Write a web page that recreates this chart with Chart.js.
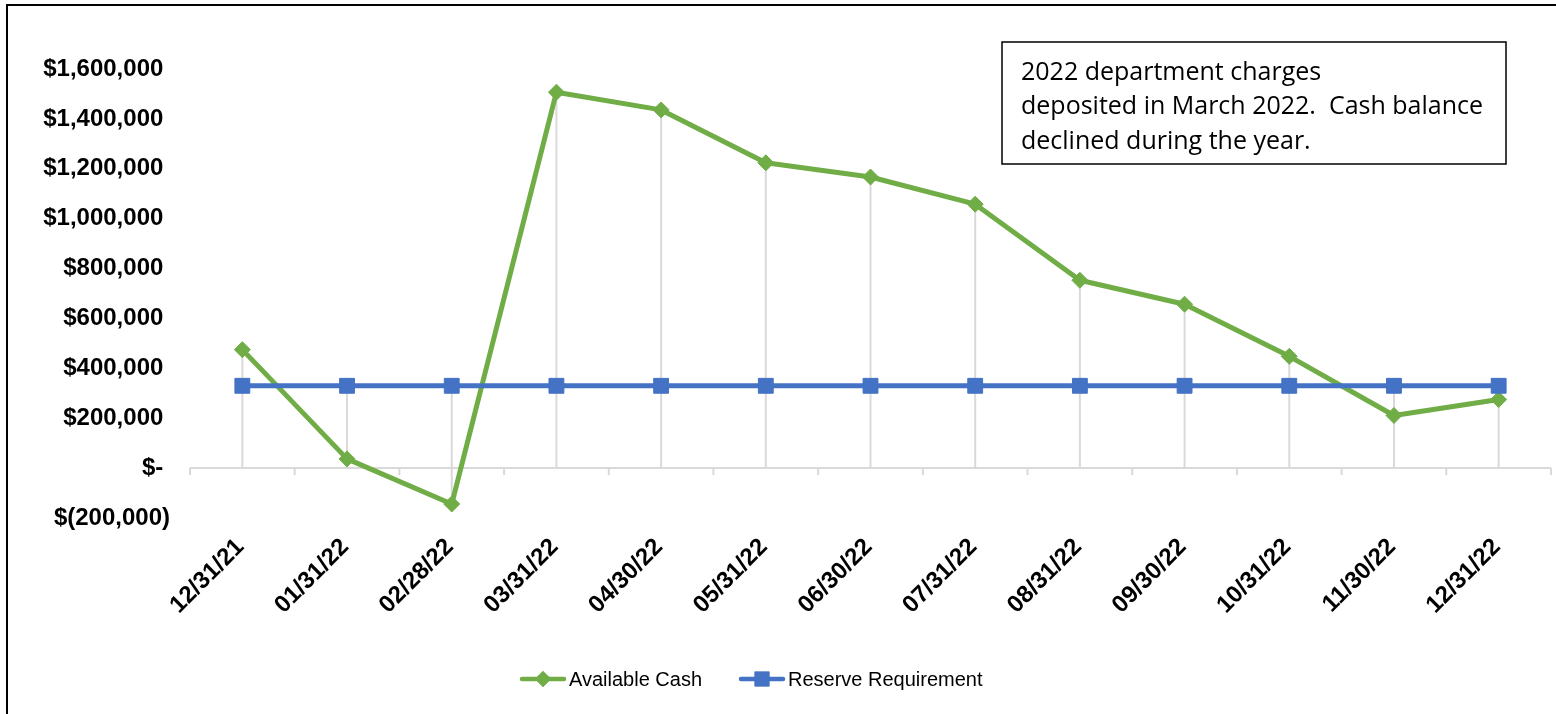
<!DOCTYPE html>
<html>
<head>
<meta charset="utf-8">
<script src="https://cdn.jsdelivr.net/npm/chart.js@4/dist/chart.umd.min.js"></script>
<style>
    body { margin: 0; background: #fff; overflow: hidden; }
    #frame { position: absolute; left: 6px; top: 4px; width: 1600px; height: 800px; border: 2px solid #000; }
    #cashChart { position: absolute; left: 0; top: 0; }
</style>
</head>
<body>
<div id="frame"></div>
<canvas id="cashChart" width="1556" height="714"></canvas>
<script>
// Month-end dates
const monthEnds = ["12/31/21", "01/31/22", "02/28/22", "03/31/22", "04/30/22", "05/31/22", "06/30/22",
    "07/31/22", "08/31/22", "09/30/22", "10/31/22", "11/30/22", "12/31/22"];

// Balances
const availableCash = [475000, 37000, -144000, 1507000, 1436000, 1224000, 1167000,
    1058000, 753000, 657000, 448000, 211000, 275000];
const reserveRequirement = [330000, 330000, 330000, 330000, 330000, 330000, 330000,
    330000, 330000, 330000, 330000, 330000, 330000];

// Y axis ticks
const yTickValues = [-200000, 0, 200000, 400000, 600000, 800000, 1000000, 1200000, 1400000, 1600000];
const yTickLabels = ["$(200,000)", "$- ", "$200,000 ", "$400,000 ", "$600,000 ", "$800,000 ",
    "$1,000,000 ", "$1,200,000 ", "$1,400,000 ", "$1,600,000 "];

const noteLines = ["2022 department charges", "deposited in March 2022.  Cash balance", "declined during the year."];

const GREEN = "#70AD47";
const BLUE = "#4472C4";
const GRID = "#D9D9D9";

// Zero axis line with ticks between categories + drop lines
const dropLines = {
    id: "dropLines",
    beforeDatasetsDraw(chart) {
        const ctx = chart.ctx;
        const x = chart.scales.x;
        const y = chart.scales.y;
        const y0 = y.getPixelForValue(0);
        ctx.save();
        ctx.strokeStyle = GRID;
        ctx.lineWidth = 2;
        monthEnds.forEach((m, i) => {
            const vals = [0, availableCash[i], reserveRequirement[i]];
            const top = y.getPixelForValue(Math.max(...vals));
            const bot = y.getPixelForValue(Math.min(...vals));
            const px = x.getPixelForValue(i);
            ctx.beginPath();
            ctx.moveTo(px, top);
            ctx.lineTo(px, bot);
            ctx.stroke();
        });
        // category axis at zero
        ctx.beginPath();
        ctx.moveTo(chart.chartArea.left, y0);
        ctx.lineTo(chart.chartArea.right, y0);
        ctx.stroke();
        const step = x.getPixelForValue(1) - x.getPixelForValue(0);
        for (let i = 0; i <= monthEnds.length; i++) {
            const px = x.getPixelForValue(i) - step / 2;
            ctx.beginPath();
            ctx.moveTo(px, y0);
            ctx.lineTo(px, y0 + 7);
            ctx.stroke();
        }
        ctx.restore();
    }
};

// Text box + legend
const extras = {
    id: "extras",
    afterDraw(chart) {
        const ctx = chart.ctx;
        ctx.save();
        // note box
        ctx.fillStyle = "#fff";
        ctx.fillRect(1002, 42, 504, 122);
        ctx.strokeStyle = "#000";
        ctx.lineWidth = 1.5;
        ctx.strokeRect(1002, 42, 504, 122);
        ctx.fillStyle = "#000";
        ctx.font = "25px 'Open Sans'";
        ctx.textBaseline = "alphabetic";
        ctx.textAlign = "left";
        noteLines.forEach((t, i) => ctx.fillText(t, 1021, 80 + i * 34.3));

        // legend
        const ly = 679;
        const items = [
            { text: "Available Cash", color: GREEN, x: 520, style: "rectRot", r: 8 },
            { text: "Reserve Requirement", color: BLUE, x: 739, style: "rect", r: 10.5 }
        ];
        ctx.font = "20px 'Liberation Sans', Arial";
        ctx.textBaseline = "middle";
        items.forEach(it => {
            ctx.strokeStyle = it.color;
            ctx.lineWidth = 4.5;
            ctx.lineCap = "round";
            ctx.beginPath();
            ctx.moveTo(it.x + 2, ly);
            ctx.lineTo(it.x + 44, ly);
            ctx.stroke();
            ctx.fillStyle = it.color;
            Chart.helpers.drawPoint(ctx, { pointStyle: it.style, radius: it.r, rotation: 0, borderWidth: 0 }, it.x + 23, ly);
            ctx.fill();
            ctx.fillStyle = "#000";
            ctx.fillText(it.text, it.x + 49, ly + 1);
        });
        ctx.restore();
    }
};

new Chart(document.getElementById("cashChart"), {
    type: "line",
    data: {
        labels: monthEnds,
        datasets: [
            {
                label: "Available Cash",
                data: availableCash,
                borderColor: GREEN,
                backgroundColor: GREEN,
                borderWidth: 5,
                borderJoinStyle: "round",
                pointStyle: "rectRot",
                pointRadius: 8,
                pointBackgroundColor: GREEN,
                pointBorderColor: GREEN,
                pointBorderWidth: 1,
                tension: 0,
                order: 2
            },
            {
                label: "Reserve Requirement",
                data: reserveRequirement,
                borderColor: BLUE,
                backgroundColor: BLUE,
                borderWidth: 5,
                pointStyle: "rect",
                pointRadius: 10.5,
                pointBackgroundColor: BLUE,
                pointBorderColor: BLUE,
                pointBorderWidth: 1,
                tension: 0,
                order: 1
            }
        ]
    },
    options: {
        responsive: false,
        animation: false,
        devicePixelRatio: 1,
        layout: { autoPadding: false, padding: { left: 0, right: 5, top: 69, bottom: 46 } },
        plugins: {
            legend: { display: false },
            tooltip: { enabled: false }
        },
        scales: {
            x: {
                offset: true,
                grid: { display: false, drawTicks: false },
                border: { display: false },
                ticks: {
                    autoSkip: false,
                    minRotation: 45,
                    maxRotation: 45,
                    padding: 15,
                    labelOffset: -2,
                    color: "#000",
                    font: { family: "'Liberation Sans', Arial", size: 24, weight: "bold" }
                },
                afterFit(scale) {
                    scale.height = 150;
                    scale.paddingLeft = 0;
                    scale.paddingRight = 0;
                }
            },
            y: {
                min: -200000,
                max: 1600000,
                grid: { display: false, drawTicks: false },
                border: { display: false },
                afterBuildTicks(scale) { scale.ticks = yTickValues.map(v => ({ value: v })); },
                ticks: {
                    padding: 20,
                    color: "#000",
                    font: { family: "'Liberation Sans', Arial", size: 24, weight: "bold" },
                    callback: (v) => yTickLabels[yTickValues.indexOf(v)]
                },
                afterFit(scale) { scale.width = 190; }
            }
        }
    },
    plugins: [dropLines, extras]
});
</script>
</body>
</html>
